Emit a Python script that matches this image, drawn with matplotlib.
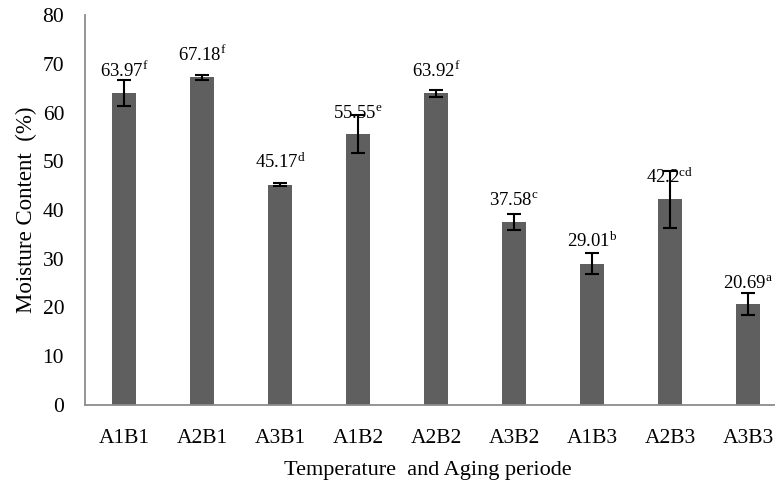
import matplotlib
matplotlib.use("Agg")
import matplotlib.pyplot as plt
import numpy as np

categories = ["A1B1", "A2B1", "A3B1", "A1B2", "A2B2", "A3B2", "A1B3", "A2B3", "A3B3"]
values = [63.97, 67.18, 45.17, 55.55, 63.92, 37.58, 29.01, 42.2, 20.69]
labels = ["63.97", "67.18", "45.17", "55.55", "63.92", "37.58", "29.01", "42.2", "20.69"]
errors = [2.7, 0.5, 0.3, 3.9, 0.7, 1.6, 2.1, 5.8, 2.2]
letters = ["f", "f", "d", "e", "f", "c", "b", "cd", "a"]
yticks = [0, 10, 20, 30, 40, 50, 60, 70, 80]

plt.rcParams['font.family'] = ['Liberation Serif', 'DejaVu Serif']
plt.rcParams['mathtext.fontset'] = 'custom'
plt.rcParams['mathtext.rm'] = 'Liberation Serif'
plt.rcParams['mathtext.it'] = 'Liberation Serif:italic'

fig = plt.figure(figsize=(7.75, 4.88), dpi=100)
ax = fig.add_axes([85/775, 83/488, 702/775, 390/488])

x = np.arange(len(categories))
ax.bar(x, values, width=0.32, color="#5f5f5f", zorder=2)
ax.errorbar(x, values, yerr=errors, fmt="none", ecolor="black",
            elinewidth=1.5, capsize=5, capthick=1.5, zorder=3)

for xi, v, lab, l in zip(x, values, labels, letters):
    ax.annotate(lab + r"$^{\mathrm{" + l + r"}}$", (xi, v), xytext=(0, 9),
                textcoords="offset points", ha="center", va="bottom",
                fontsize=13.5, zorder=1)

ax.set_xlim(-0.5, len(categories) - 0.5)
ax.set_ylim(0, 80)
ax.set_yticks(yticks)
ax.set_xticks(x)
ax.set_xticklabels(categories)
ax.tick_params(axis="both", length=0, labelsize=15.5)
ax.tick_params(axis="x", pad=17)
ax.tick_params(axis="y", pad=15)
for s in ["top", "right"]:
    ax.spines[s].set_visible(False)
for s in ["left", "bottom"]:
    ax.spines[s].set_color("#8c8c8c")
    ax.spines[s].set_linewidth(1.3)

ax.set_ylabel("Moisture Content  (%)", fontsize=16.5)
ax.set_xlabel("Temperature  and Aging periode", fontsize=16)
ax.yaxis.set_label_coords(-48/702, 0.5)
ax.xaxis.set_label_coords(0.489, -56/390)

fig.savefig("out.png", dpi=100)
